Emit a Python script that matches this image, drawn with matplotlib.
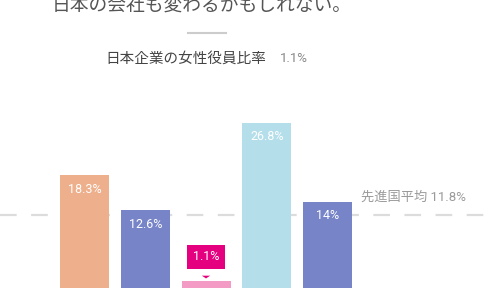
import matplotlib
matplotlib.use("Agg")
import matplotlib.pyplot as plt

plt.rcParams['font.family'] = ['Roboto', 'Noto Sans CJK JP', 'DejaVu Sans']

title = "日本の会社も変わるかもしれない。"
subtitle = "日本企業の女性役員比率"
subtitle_value = "1.1%"
categories = ["A", "B", "日本", "D", "E"]
values = [18.3, 12.6, 1.1, 26.8, 14.0]
value_labels = ["18.3%", "12.6%", "1.1%", "26.8%", "14%"]
colors = ["#eeb08c", "#7784c8", "#f39bc4", "#b4deea", "#7784c8"]
avg_value = 11.8
avg_label = "先進国平均 11.8%"

W, H = 500, 300
fig = plt.figure(figsize=(5, 3), dpi=100)
ax = fig.add_axes([0, 0, 1, 1])
ax.set_axis_off()

spacing = 60.75
x0 = 84.5
ax.set_xlim(-x0 / spacing, (W - x0) / spacing)
ppu = 6.16
base = 12
ax.set_ylim(-base / ppu, (H - base) / ppu)

xs = list(range(len(values)))
ax.axhline(avg_value, xmin=0, xmax=0.975, color="#dcdcdc", lw=1.6,
           linestyle=(0, (7.5, 6.5)), zorder=1)
ax.bar(xs, values, width=49 / spacing, color=colors, zorder=2)

for i, (v, lab) in enumerate(zip(values, value_labels)):
    if i == 2:
        continue
    ax.annotate(lab, (i, v), xytext=(0, -10), textcoords="offset points",
                ha="center", va="center", color="white", fontsize=9, zorder=3)

# highlighted label for Japan
i = 2
v = values[i]
ax.annotate(value_labels[i], (i, v), xytext=(0, 17.5), textcoords="offset points",
            ha="center", va="center", color="white", fontsize=9, zorder=5,
            bbox=dict(boxstyle="square,pad=0.45", fc="#e4007f", ec="none"))
ax.annotate("", (i, v), xytext=(0, 6), textcoords="offset points",
            arrowprops=dict(arrowstyle="wedge,tail_width=0.6,shrink_factor=0.5",
                            fc="#e4007f", ec="none", lw=0), zorder=4)

ax.annotate(avg_label, (4.55, avg_value), xytext=(0, 13), textcoords="offset points",
            ha="left", va="center", color="#9a9a9a", fontsize=9.5)

fig.text(202 / W, 1 - 6 / H, title, ha="center", va="center",
         color="#555555", fontsize=13.5)
fig.add_artist(plt.Line2D([188 / W, 226 / W], [1 - 33 / H, 1 - 33 / H],
                          color="#cccccc", lw=1.5))
fig.text(105 / W, 1 - 59 / H, subtitle, ha="left", va="center",
         color="#444444", fontsize=10.5)
fig.text(280 / W, 1 - 59 / H, subtitle_value, ha="left", va="center",
         color="#888888", fontsize=9.5)

fig.savefig("out.png", dpi=100, facecolor="white")
